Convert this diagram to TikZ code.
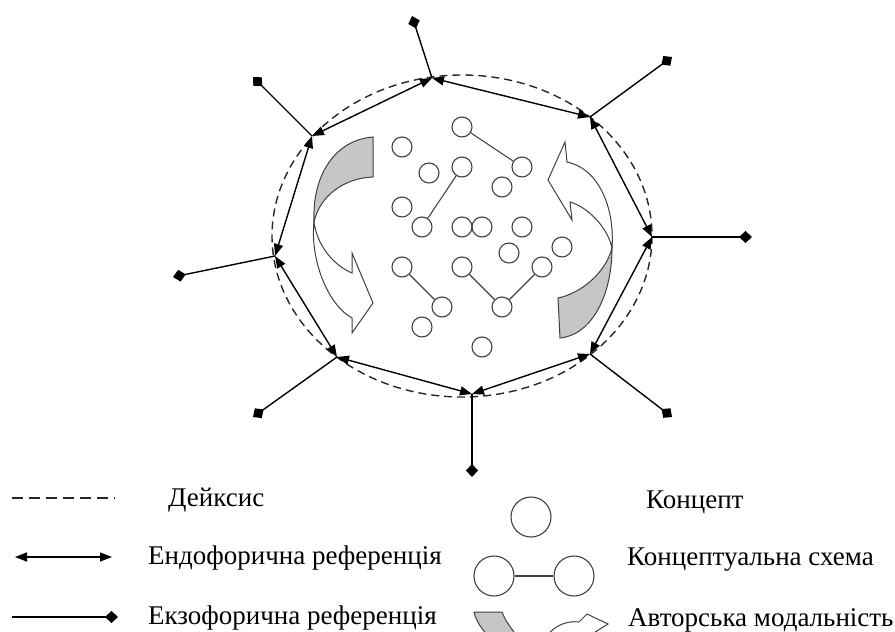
\documentclass[tikz,border=0pt]{standalone}
\usepackage{fontspec}
\setmainfont{Liberation Serif}
\usetikzlibrary{arrows.meta}
\definecolor{mgray}{HTML}{C6C6C6}
\definecolor{mline}{HTML}{404040}
\tikzset{
  deixis/.style={dash pattern=on 8pt off 5pt,line width=1.4pt,draw=black!85},
  endo/.style={{Triangle[length=12pt,width=9pt]}-{Triangle[length=12pt,width=9pt]},line width=1.4pt},
  exo/.style={-{Diamond[length=13pt,width=12pt]},line width=1.4pt},
  concept/.style={circle,draw=mline,line width=1.1pt,minimum size=20pt,inner sep=0pt},
  link/.style={draw=mline,line width=1.1pt},
  modback/.style={fill=mgray,draw=mline,line width=1pt},
  modfront/.style={fill=white,draw=mline,line width=1pt},
  lbl/.style={anchor=west,inner sep=0pt,font=\fontsize{27}{30}\selectfont},
}

\begin{document}
\begin{tikzpicture}[x=1pt,y=-1pt]
  \useasboundingbox (0,0) rectangle (895,632);
  \draw[deixis] (462,236) ellipse [x radius=190,y radius=161];
  \coordinate (v1) at (432,78);
  \coordinate (v2) at (590,117);
  \coordinate (v3) at (652,237);
  \coordinate (v4) at (590,354);
  \coordinate (v5) at (472,394);
  \coordinate (v6) at (337,357);
  \coordinate (v7) at (275,256);
  \coordinate (v8) at (312,136);
  \coordinate (e1) at (412,16);
  \coordinate (e2) at (672,57);
  \coordinate (e3) at (752,237);
  \coordinate (e4) at (672,417);
  \coordinate (e5) at (472,477);
  \coordinate (e6) at (253,417);
  \coordinate (e7) at (173,277);
  \coordinate (e8) at (253,77);
  \foreach \a/\b in {v1/v2,v2/v3,v3/v4,v4/v5,v5/v6,v6/v7,v7/v8,v8/v1}
    \draw[endo] (\a) -- (\b);
  \foreach \i in {1,...,8}
    \draw[exo] (v\i) -- (e\i);
  \foreach \n/\x/\y in {c1/462/127,c2/522/167,c3/402/147,c4/429/173,c5/462/167,
      c6/502/187,c7/402/207,c8/422/227,c9/462/227,c10/482/227,c11/522/227,
      c12/509/253,c13/562/247,c14/402/267,c15/462/267,c16/542/267,c17/442/307,
      c18/502/307,c19/422/327,c20/482/347}
    \node[concept] (\n) at (\x,\y) {};
  \draw[link] (c1) -- (c2);
  \draw[link] (c5) -- (c8);
  \draw[link] (c14) -- (c17);
  \draw[link] (c15) -- (c18);
  \draw[link] (c16) -- (c18);
  \draw[modback] (373,137) -- (373,177) .. controls (345,178) and (320,195) .. (314,222)
    .. controls (312,175) and (335,140) .. (373,137) -- cycle;
  \draw[modfront] (314,222) .. controls (317,245) and (333,265) .. (352,273) -- (352,253)
    -- (373,303) -- (352,333) -- (352,318) .. controls (328,305) and (310,260) .. (314,222) -- cycle;
  \draw[modback] (558,298) -- (560,338) .. controls (592,335) and (612,295) .. (612,248)
    .. controls (606,272) and (582,293) .. (558,298) -- cycle;
  \draw[modfront] (612,248) .. controls (615,205) and (597,168) .. (567,162) -- (565,142)
    -- (548,180) -- (572,220) -- (570,202) .. controls (588,207) and (608,228) .. (612,248) -- cycle;
  \coordinate (d1) at (12,498);
  \coordinate (d2) at (115,498);
  \coordinate (n1) at (15,557);
  \coordinate (n2) at (112,557);
  \coordinate (x1) at (12,617);
  \coordinate (x2) at (118,617);
  \draw[deixis,dash pattern=on 11pt off 6pt] (d1) -- (d2);
  \draw[endo] (n1) -- (n2);
  \draw[exo] (x1) -- (x2);
  \node[lbl] (tdeix) at (168,500) {Дейксис};
  \node[lbl] (tendo) at (148,558) {Ендофорична референція};
  \node[lbl] (texo) at (148,618) {Екзофорична референція};
  \node[concept,minimum size=40pt] (lc) at (531,517) {};
  \node[concept,minimum size=40pt] (ls1) at (494,576) {};
  \node[concept,minimum size=40pt] (ls2) at (574,576) {};
  \draw[link] (ls1) -- (ls2);
  \begin{scope}
    \clip (0,0) rectangle (895,632);
    \draw[modback] (474,612) -- (502,612) .. controls (506,622) and (511,628) .. (520,640)
      -- (492,640) .. controls (482,630) and (476,621) .. (474,612) -- cycle;
    \draw[modfront] (545,640) .. controls (550,628) and (565,620) .. (579,622) -- (587,614)
      -- (608,624) -- (592,634) -- (590,640) -- cycle;
  \end{scope}
  \node[lbl] (tconc) at (646,502) {Концепт};
  \node[lbl] (tschem) at (627,560) {Концептуальна схема};
  \node[lbl] (tmod) at (628,620) {Авторська модальність};
\end{tikzpicture}
\end{document}
